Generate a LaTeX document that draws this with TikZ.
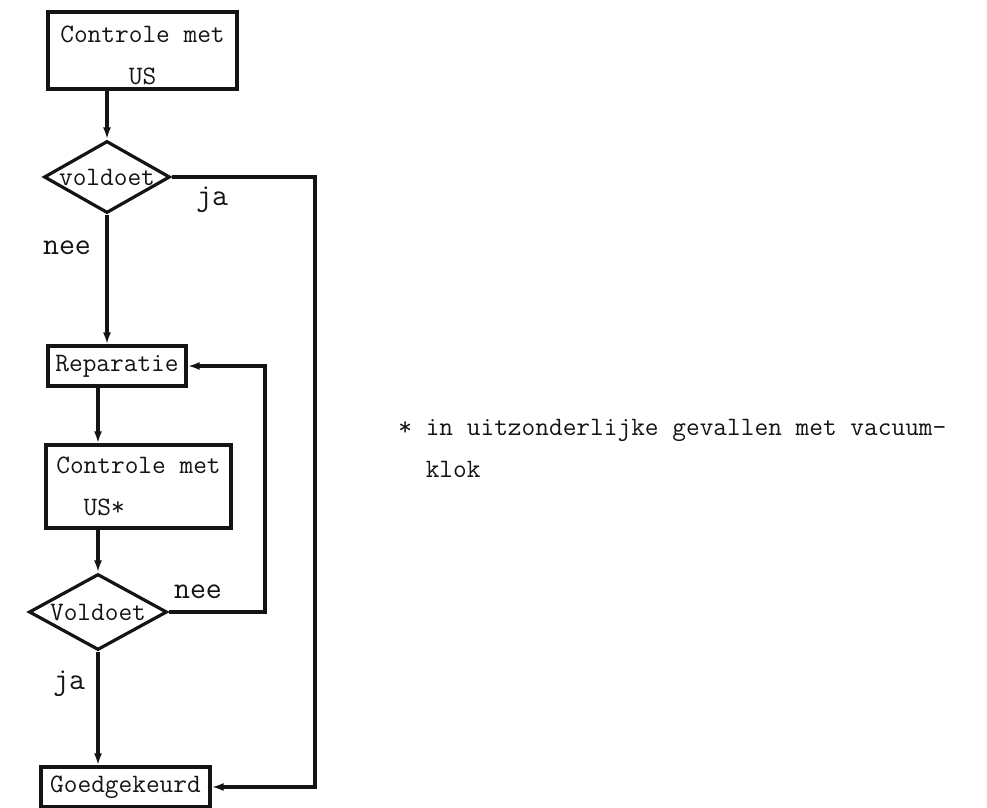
\documentclass[tikz,border=0pt]{standalone}
\usepackage{fontspec,xcolor,tikz}
\usetikzlibrary{arrows.meta,shapes.geometric}
\definecolor{inkt}{HTML}{141414}
\newcommand{\tekst}{\fontsize{13.3}{21}\selectfont\ttfamily}
\newcommand{\antw}{\fontsize{15.5}{18}\selectfont\ttfamily}
\tikzset{blok/.style={draw=inkt,line width=1.6pt,inner sep=0,text=inkt,font=\tekst},
  keuze/.style={diamond,draw=inkt,line width=1.6pt,inner sep=0,text=inkt,font=\tekst},
  pijl/.style={inkt,line width=1.6pt,-{Latex[length=6pt,width=4pt]}},
  antwoord/.style={inner sep=0,text=inkt,font=\antw}}

\begin{document}
\begin{tikzpicture}[x=0.5pt,y=-0.5pt]
\useasboundingbox (0,0) rectangle (987,808);
% stappen
\node[blok,minimum width=94.5pt,minimum height=38.5pt,align=center] (c1) at (142.5,50.5) {\rule{0pt}{13pt}Controle met\\US};
\node[keuze,aspect=1.75,minimum width=63pt,minimum height=36pt] (d1) at (107,177) {voldoet};
\node[blok,minimum width=69pt,minimum height=20pt] (rep) at (117,366) {Reparatie};
\node[blok,minimum width=92.5pt,minimum height=41.5pt,align=left] (c2) at (138.5,486.5) {Controle met\\\phantom{Co}US*};
\node[keuze,aspect=1.8,minimum width=69pt,minimum height=38pt] (d2) at (98,612) {Voldoet};
\node[blok,minimum width=84.5pt,minimum height=20pt] (goed) at (125.5,787) {Goedgekeurd};
% verbindingen
\draw[pijl] (d1.north |- c1.south) -- (d1.north);
\draw[pijl] (d1.south) -- (d1.south |- rep.north);
\draw[pijl] (d2.north |- rep.south) -- (d2.north |- c2.north);
\draw[pijl] (d2.north |- c2.south) -- (d2.north);
\draw[pijl] (d2.south) -- (d2.south |- goed.north);
\coordinate (omweg) at (315,177);
\coordinate (lus) at (265,612);
\draw[pijl] (d1.east) -- (omweg) |- (goed.east);
\draw[pijl] (d2.east) -- (lus) |- (rep.east);
% antwoorden
\node[antwoord] (jaA) at (212,200) {ja};
\node[antwoord] (neeA) at (67,248) {nee};
\node[antwoord] (neeB) at (198,592) {nee};
\node[antwoord] (jaB) at (69,684) {ja};
% voetnoot
\node[inner sep=0,anchor=north west,align=left,text=inkt,font=\tekst] (noot) at (398,419) {* in uitzonderlijke gevallen met vacuum-\\\phantom{*~}klok};
\end{tikzpicture}
\end{document}
